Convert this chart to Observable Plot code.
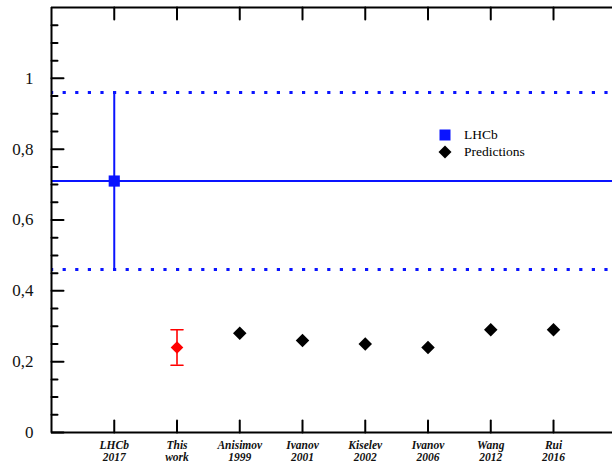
<!DOCTYPE html>
<html>
<head>
<meta charset="utf-8">
<script src="https://cdn.jsdelivr.net/npm/d3@7"></script>
<script src="https://cdn.jsdelivr.net/npm/@observablehq/plot@0.6"></script>
<style>
  html, body { margin: 0; padding: 0; background: #fff; }
  #wrap { position: relative; width: 612px; height: 464px; }
  #legend { position: absolute; left: 438px; top: 126px; font-family: 'Liberation Serif', serif; font-size: 13.5px; color: #000; }
  #legend .row { display: flex; align-items: center; height: 17px; }
  #legend svg { margin-right: 12px; }
</style>
</head>
<body>
<div id="wrap"><div id="legend"></div></div>
<script>
// ---- data ----
const categories = ["LHCb\n2017", "This\nwork", "Anisimov\n1999", "Ivanov\n2001", "Kiselev\n2002", "Ivanov\n2006", "Wang\n2012", "Rui\n2016"];
const lhcbValue = 0.71;
const lhcbError = 0.25;
const thisWorkValue = 0.24;
const thisWorkError = 0.05;
const predictionNames = ["Anisimov\n1999", "Ivanov\n2001", "Kiselev\n2002", "Ivanov\n2006", "Wang\n2012", "Rui\n2016"];
const predictionValues = [0.28, 0.26, 0.25, 0.24, 0.29, 0.29];
const yMajorTicks = [0, 0.2, 0.4, 0.6, 0.8, 1.0];
const yMinorTicks = [0.05, 0.1, 0.15, 0.25, 0.3, 0.35, 0.45, 0.5, 0.55, 0.65, 0.7, 0.75, 0.85, 0.9, 0.95, 1.05, 1.1, 1.15];
const legendLabels = ["LHCb", "Predictions"];

// ---- derived tables ----
const pos = name => categories.indexOf(name) + 1;
const catTicks = categories.map((c, i) => ({name: c, x: i + 1}));
const predictions = predictionNames.map((n, i) => ({x: pos(n), y: predictionValues[i]}));
const lhcb = [{x: pos("LHCb\n2017"), y: lhcbValue, lo: lhcbValue - lhcbError, hi: lhcbValue + lhcbError}];
const thisWork = [{x: pos("This\nwork"), y: thisWorkValue, lo: thisWorkValue - thisWorkError, hi: thisWorkValue + thisWorkError}];

const blue = "#0a14ff";
const red = "#ff0000";
const serif = "'Liberation Serif', serif";
const lineShape = {draw(ctx, l) { ctx.moveTo(0, 0); ctx.lineTo(0, -l); }};
const capShape = {draw(ctx, l) { ctx.moveTo(0, -l / 2); ctx.lineTo(0, l / 2); }};

const chart = Plot.plot({
  width: 612,
  height: 464,
  marginLeft: 51,
  marginRight: 0,
  marginTop: 7,
  marginBottom: 32,
  style: {fontFamily: serif, background: "#fff", overflow: "visible"},
  x: {type: "linear", domain: [0, 8.94], axis: null},
  y: {domain: [0, 1.2], axis: null},
  marks: [
    // reference lines
    Plot.ruleY([lhcbValue + lhcbError, lhcbValue - lhcbError], {stroke: blue, strokeWidth: 3, strokeDasharray: "3.2,9.4", strokeDashoffset: 1}),
    Plot.ruleY([lhcbValue], {stroke: blue, strokeWidth: 2}),
    // LHCb error bar
    Plot.ruleX(lhcb, {x: "x", y1: "lo", y2: "hi", stroke: blue, strokeWidth: 2}),
    Plot.dot(lhcb, {x: "x", y: "y", symbol: "square", r: 6.3, fill: blue, stroke: "none"}),
    // this work
    Plot.ruleX(thisWork, {x: "x", y1: "lo", y2: "hi", stroke: red, strokeWidth: 1.6}),
    Plot.vector(thisWork, {x: "x", y: "lo", length: 12, rotate: 90, anchor: "start", shape: capShape, stroke: red, strokeWidth: 1.6}),
    Plot.vector(thisWork, {x: "x", y: "hi", length: 12, rotate: 90, anchor: "start", shape: capShape, stroke: red, strokeWidth: 1.6}),
    Plot.dot(thisWork, {x: "x", y: "y", symbol: "diamond2", r: 5.7, fill: red, stroke: "none"}),
    // predictions
    Plot.dot(predictions, {x: "x", y: "y", symbol: "diamond2", r: 6.1, fill: "#000", stroke: "none"}),
    // frame
    Plot.ruleX([0], {stroke: "#000", strokeWidth: 2}),
    Plot.ruleY([0], {stroke: "#000", strokeWidth: 2}),
    Plot.ruleY([1.2], {stroke: "#000", strokeWidth: 2}),
    // y ticks (inward)
    Plot.vector(yMajorTicks, {x: 0, y: d => d, length: 12, rotate: 90, anchor: "start", shape: lineShape, stroke: "#000", strokeWidth: 2}),
    Plot.vector(yMinorTicks, {x: 0, y: d => d, length: 6, rotate: 90, anchor: "start", shape: lineShape, stroke: "#000", strokeWidth: 2}),
    // x ticks bottom (up) and top (down)
    Plot.vector(catTicks, {x: "x", y: 0, length: 12, rotate: 0, anchor: "start", shape: lineShape, stroke: "#000", strokeWidth: 2}),
    Plot.vector(catTicks, {x: "x", y: 1.2, length: 12, rotate: 180, anchor: "start", shape: lineShape, stroke: "#000", strokeWidth: 2}),
    // y labels
    Plot.axisY(yMajorTicks, {anchor: "left", tickSize: 0, tickPadding: 18, fontSize: 17, fill: "#111", fontFamily: serif,
      tickFormat: d => String(+d.toFixed(2)).replace(".", ",")}),
    // x labels
    Plot.text(catTicks, {x: "x", y: 0, text: "name", lineAnchor: "top", dy: 7.5, fontSize: 11.5, fontWeight: "bold", fontStyle: "italic", fontFamily: serif, fill: "#111", lineHeight: 1.07})
  ]
});
document.getElementById("wrap").prepend(chart);

// legend (HTML)
const legend = document.getElementById("legend");
const sym = [
  `<svg width="14" height="14"><rect x="1.5" y="1.5" width="11" height="11" fill="${blue}"/></svg>`,
  `<svg width="14" height="14"><path d="M7,0.5L13.5,7L7,13.5L0.5,7Z" fill="#000"/></svg>`
];
legendLabels.forEach((l, i) => {
  const row = document.createElement("div");
  row.className = "row";
  row.innerHTML = sym[i] + `<span>${l}</span>`;
  legend.appendChild(row);
});
</script>
</body>
</html>
